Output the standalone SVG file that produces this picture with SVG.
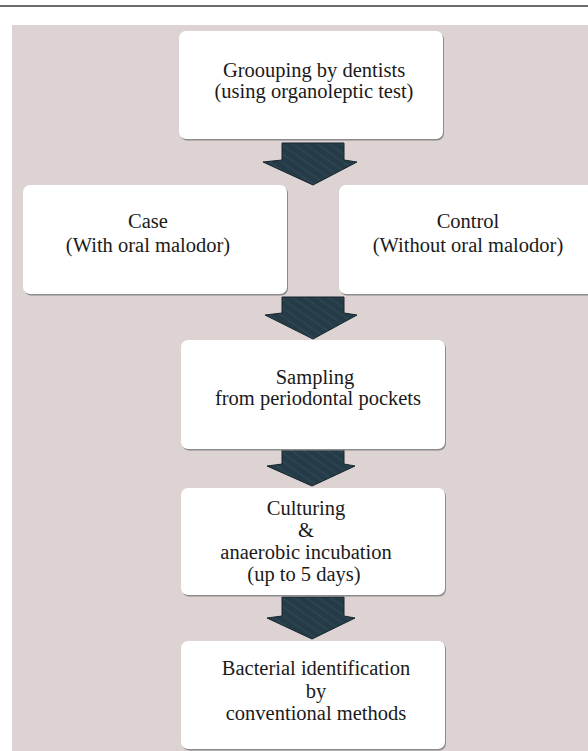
<svg xmlns="http://www.w3.org/2000/svg" width="588" height="751" viewBox="0 0 588 751">
<style>
.bg{fill:#ddd3d3}
.box{fill:#ffffff}
.shadow{fill:#8c8c8c}
.lbl{font-family:"Liberation Serif","Times New Roman",serif;font-size:20.5px;fill:#1a1a1a;text-anchor:middle}
.arrow{fill:url(#tex);stroke:#16252d;stroke-width:1;stroke-linejoin:round}
</style>
<defs>
<pattern id="tex" patternUnits="userSpaceOnUse" width="7" height="7" patternTransform="rotate(-55)">
<rect width="7" height="7" fill="#253b47"/>
<rect width="2" height="7" fill="#2f4753" opacity="0.7"/>
</pattern>
</defs>
<line x1="0" y1="6" x2="588" y2="6" stroke="#6b6b6b" stroke-width="2"/>
<rect class="bg" x="12" y="25" width="576" height="726"/>

<g id="connectors">
<path class="arrow" d="M282,143 H344 V160 L357,162 L313,185 L263,162 L282,160 Z"/>
<path class="arrow" d="M282,297 H344 V313 L357,315 L313,339 L265,315 L282,313 Z"/>
<path class="arrow" d="M282,446 H344 V464 L355,466 L312,486 L267,466 L282,464 Z"/>
<path class="arrow" d="M282,597 H344 V616 L355,618 L312,639 L267,618 L282,616 Z"/>
</g>

<g id="grouping">
<rect class="shadow" x="180" y="32.5" width="264" height="108" rx="7"/>
<rect class="box" x="179" y="31" width="264" height="108" rx="7"/>
<text class="lbl" x="314" y="77">Groouping by dentists</text>
<text class="lbl" x="314" y="98">(using organoleptic test)</text>
</g>

<g id="case">
<rect class="shadow" x="24" y="186.5" width="264" height="109" rx="7"/>
<rect class="box" x="23" y="185" width="264" height="109" rx="7"/>
<text class="lbl" x="148" y="228">Case</text>
<text class="lbl" x="148" y="252">(With oral malodor)</text>
</g>

<g id="control">
<rect class="shadow" x="340" y="186.5" width="264" height="109" rx="7"/>
<rect class="box" x="339" y="185" width="264" height="109" rx="7"/>
<text class="lbl" x="468" y="228">Control</text>
<text class="lbl" x="468" y="252">(Without oral malodor)</text>
</g>

<g id="sampling">
<rect class="shadow" x="182" y="341.5" width="264" height="109" rx="7"/>
<rect class="box" x="181" y="340" width="264" height="109" rx="7"/>
<text class="lbl" x="315" y="384">Sampling</text>
<text class="lbl" x="318" y="405">from periodontal pockets</text>
</g>

<g id="culturing">
<rect class="shadow" x="182" y="489.5" width="264" height="107" rx="7"/>
<rect class="box" x="181" y="488" width="264" height="107" rx="7"/>
<text class="lbl" x="306" y="515">Culturing</text>
<text class="lbl" x="306" y="537">&amp;</text>
<text class="lbl" x="306" y="559">anaerobic incubation</text>
<text class="lbl" x="304" y="581">(up to 5 days)</text>
</g>

<g id="identification">
<rect class="shadow" x="182" y="642.5" width="264" height="108" rx="7"/>
<rect class="box" x="181" y="641" width="264" height="108" rx="7"/>
<text class="lbl" x="316" y="675">Bacterial identification</text>
<text class="lbl" x="316" y="698">by</text>
<text class="lbl" x="316" y="720">conventional methods</text>
</g>
</svg>
